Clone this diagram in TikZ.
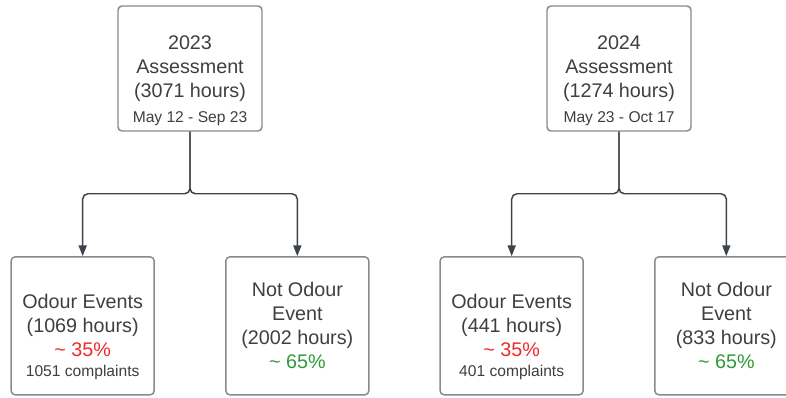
\documentclass[tikz,border=0pt]{standalone}
\usepackage{fontspec}
\setmainfont{Liberation Sans}
\usetikzlibrary{positioning,arrows.meta}
\definecolor{boxline}{HTML}{8A8A8A}
\definecolor{textgrey}{HTML}{3F3F3F}
\definecolor{linkgrey}{HTML}{3D434B}
\definecolor{pctred}{HTML}{EE2A2A}
\definecolor{pctgreen}{HTML}{2E9B35}

\begin{document}
\begin{tikzpicture}[x=0.75pt,y=-0.75pt,node distance=193pt and 80.5pt,on grid,
   box/.style={draw=boxline,line width=1.1pt,rounded corners=3pt,fill=white,text=textgrey,
      align=center,inner sep=0pt,font=\fontsize{14.8}{18}\selectfont},
   yearbox/.style={box,minimum width=108pt,minimum height=93.75pt},
   outbox/.style={box,minimum width=107.25pt,minimum height=103.5pt},
   note/.style={font=\fontsize{11.7}{14}\selectfont,text=textgrey,anchor=center},
   link/.style={draw=linkgrey,line width=1.1pt,rounded corners=4pt,
      -{Triangle[length=8pt,width=6pt]}}]
   \clip (0,0) rectangle (786,397);
   \useasboundingbox (0,0) rectangle (786,397);
   % assessments
   \node[yearbox,label={[note,yshift=9.75pt]south:May 12 - Sep 23}] (y_23) at (190,68.5)
      {2023\\Assessment\\(3071 hours)};
   \node[yearbox,label={[note,yshift=9.75pt]south:May 23 - Oct 17}] (y_24) at (619,68.5)
      {2024\\Assessment\\(1274 hours)};
   % outcomes
   \node[outbox,label={[note,yshift=17.25pt]south:1051 complaints}] (odour_23) [below left=of y_23]
      {Odour Events\\(1069 hours)\\\textcolor{pctred}{\textasciitilde{} 35\%}};
   \node[outbox] (none_23) [below right=of y_23]
      {Not Odour\\Event\\(2002 hours)\\\textcolor{pctgreen}{\textasciitilde{} 65\%}};
   \node[outbox,label={[note,yshift=17.25pt]south:401 complaints}] (odour_24) [below left=of y_24]
      {Odour Events\\(441 hours)\\\textcolor{pctred}{\textasciitilde{} 35\%}};
   \node[outbox] (none_24) [below right=of y_24]
      {Not Odour\\Event\\(833 hours)\\\textcolor{pctgreen}{\textasciitilde{} 65\%}};
   \draw[link] (y_23.south) -- ++(0,62) -| (odour_23.north);
   \draw[link] (y_23.south) -- ++(0,62) -| (none_23.north);
   \draw[link] (y_24.south) -- ++(0,62) -| (odour_24.north);
   \draw[link] (y_24.south) -- ++(0,62) -| (none_24.north);
\end{tikzpicture}
\end{document}
